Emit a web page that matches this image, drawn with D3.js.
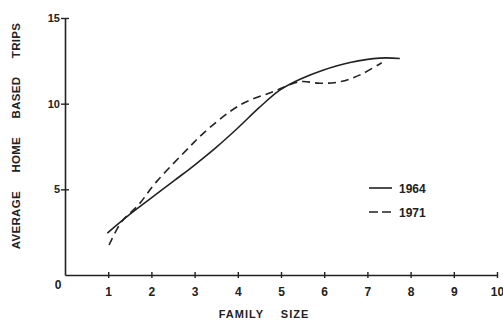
<!DOCTYPE html>
<html>
<head>
<meta charset="utf-8">
<script src="https://cdn.jsdelivr.net/npm/d3@7/dist/d3.min.js"></script>
<style>
  html, body { margin: 0; padding: 0; background: #fff; }
  svg { display: block; font-family: "Liberation Sans", Arial, sans-serif; }
</style>
</head>
<body>
<svg id="chart" width="503" height="320"></svg>
<script>
// Average home based trips by family size, two survey years
const familySize1964 = [0.98, 1.47, 2.00, 2.55, 3.00, 3.50, 4.00, 4.50, 4.98, 5.44, 5.97, 6.60, 7.29, 7.75];
const trips1964      = [2.45, 3.48, 4.50, 5.55, 6.42, 7.45, 8.58, 9.78, 10.80, 11.42, 11.95, 12.40, 12.66, 12.64];

const familySize1971 = [1.02, 1.31, 1.70, 2.12, 2.89, 3.20, 4.05, 4.82, 5.44, 5.90, 6.37, 6.83, 7.33];
const trips1971      = [1.75, 3.11, 4.09, 5.45, 7.49, 8.27, 9.92, 10.70, 11.28, 11.19, 11.28, 11.68, 12.39];

const xTicks = [1, 2, 3, 4, 5, 6, 7, 8, 9, 10];
const yTicks = [5, 10, 15];
const seriesNames = ["1964", "1971"];

const svg = d3.select("#chart");
const ink = "#222";

const x = d3.scaleLinear().domain([0, 10]).range([65, 497]);
const y = d3.scaleLinear().domain([0, 15]).range([275, 18]);

// x axis with ticks crossing the line
const gx = svg.append("g").attr("transform", `translate(0,${y(0)})`)
  .call(d3.axisBottom(x).tickValues(xTicks).tickSize(0).tickPadding(12).tickSizeOuter(0));
gx.select(".domain").attr("stroke", ink).attr("stroke-width", 1.6);
gx.selectAll(".tick line").attr("y1", -3).attr("y2", 3).attr("stroke", ink).attr("stroke-width", 1.4);
gx.selectAll(".tick text").attr("fill", ink).attr("font-size", 12).attr("font-weight", "bold")
  .attr("font-family", "'Liberation Sans', Arial, sans-serif");

// y axis
const gy = svg.append("g").attr("transform", `translate(${x(0)},0)`)
  .call(d3.axisLeft(y).tickValues(yTicks).tickSize(0).tickPadding(5).tickSizeOuter(0));
gy.select(".domain").attr("stroke", ink).attr("stroke-width", 1.6);
gy.selectAll(".tick line").attr("x1", -4).attr("x2", 4).attr("stroke", ink).attr("stroke-width", 1.4);
gy.selectAll(".tick text").attr("fill", ink).attr("font-size", 11).attr("font-weight", "bold")
  .attr("font-family", "'Liberation Sans', Arial, sans-serif");

// origin label
svg.append("text").attr("x", x(0) - 7).attr("y", y(0) + 14)
  .attr("text-anchor", "middle").attr("font-size", 12).attr("font-weight", "bold")
  .attr("fill", ink).text("0");

// axis titles
svg.append("text").attr("x", 264).attr("y", 318)
  .attr("text-anchor", "middle").attr("font-size", 11).attr("font-weight", "bold")
  .attr("fill", ink).attr("word-spacing", 13).attr("letter-spacing", 1)
  .text("FAMILY SIZE");

svg.append("text").attr("transform", "translate(20,136) rotate(-90)")
  .attr("text-anchor", "middle").attr("font-size", 11.5).attr("font-weight", "bold")
  .attr("fill", ink).attr("word-spacing", 15).attr("letter-spacing", 0.3)
  .text("AVERAGE HOME BASED TRIPS");

// curves
const line = d3.line()
  .x(d => x(d[0])).y(d => y(d[1]))
  .curve(d3.curveCatmullRom.alpha(0.5));

const pts1964 = familySize1964.map((v, i) => [v, trips1964[i]]);
const pts1971 = familySize1971.map((v, i) => [v, trips1971[i]]);

svg.append("path").datum(pts1964).attr("d", line)
  .attr("fill", "none").attr("stroke", ink).attr("stroke-width", 1.6);
svg.append("path").datum(pts1971).attr("d", line)
  .attr("fill", "none").attr("stroke", ink).attr("stroke-width", 1.6)
  .attr("stroke-dasharray", "8,5");

// legend
const legend = svg.append("g").attr("transform", "translate(369,188)");
seriesNames.forEach((name, i) => {
  const row = legend.append("g").attr("transform", `translate(0,${i * 24})`);
  row.append("line").attr("x1", 0).attr("x2", 23).attr("y1", 0).attr("y2", 0)
    .attr("stroke", ink).attr("stroke-width", 1.6)
    .attr("stroke-dasharray", i === 1 ? "9,4" : null);
  row.append("text").attr("x", 30).attr("y", 4.5)
    .attr("font-size", 12).attr("font-weight", "bold").attr("fill", ink).text(name);
});
</script>
</body>
</html>
